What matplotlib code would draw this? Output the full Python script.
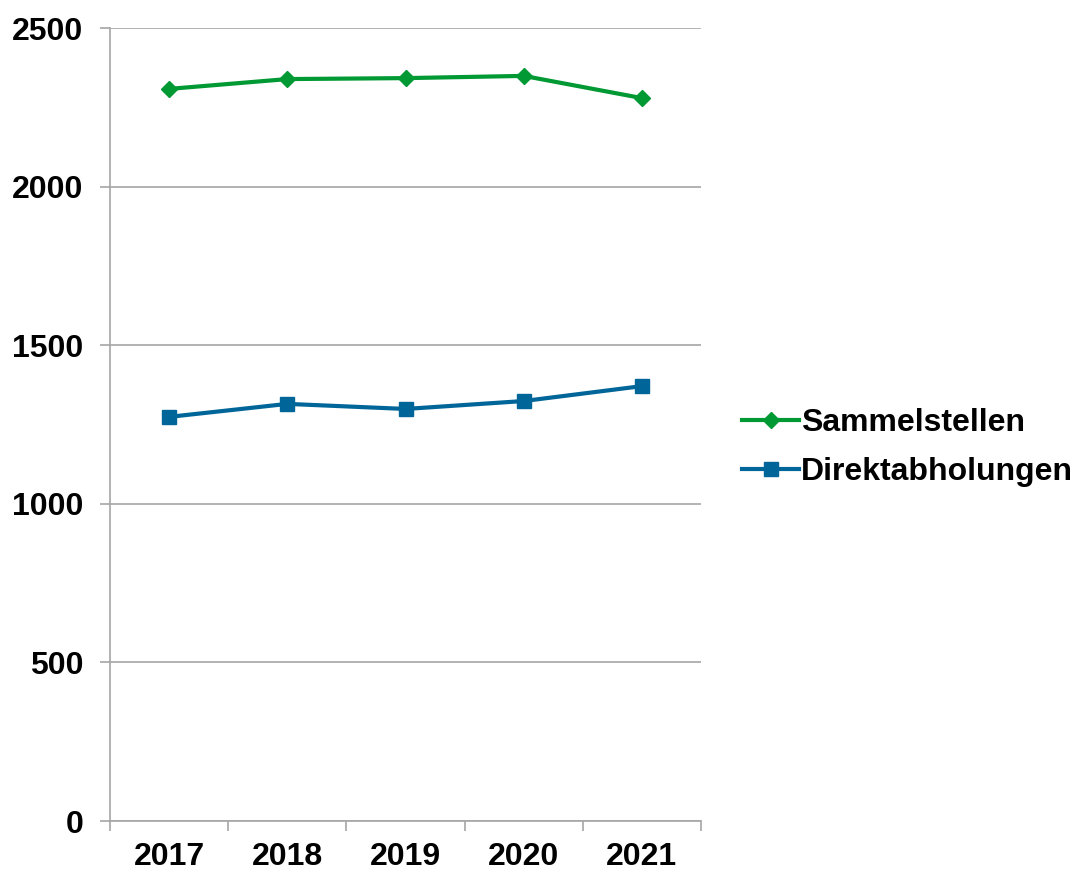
import matplotlib
matplotlib.use("Agg")
import matplotlib.pyplot as plt

plt.rcParams.update({
    "font.family": ["Liberation Sans", "DejaVu Sans"],
    "font.weight": "bold",
    "font.size": 23,
})

years = ["2017", "2018", "2019", "2020", "2021"]
sammelstellen = [2308, 2339, 2342, 2349, 2279]
direktabholungen = [1274, 1315, 1299, 1324, 1371]

GREEN = "#009933"
BLUE = "#006699"
GRID = "#a6a6a6"

fig = plt.figure(figsize=(10.74, 8.72), dpi=100)
ax = fig.add_axes([110 / 1074, 1 - 821 / 872, 591 / 1074, 793 / 872])

x = range(len(years))
ax.plot(x, sammelstellen, color=GREEN, lw=3, marker="D", ms=8,
        label="Sammelstellen")
ax.plot(x, direktabholungen, color=BLUE, lw=3, marker="s", ms=10,
        label="Direktabholungen")

ax.set_xlim(-0.5, len(years) - 0.5)
ax.set_ylim(0, 2500)
ax.set_yticks(range(0, 2501, 500))
ax.yaxis.grid(True, color=GRID, lw=1.2)
ax.set_axisbelow(True)

# category boundaries as ticks, labels centred in between
ax.set_xticks([i - 0.5 for i in range(len(years) + 1)])
ax.set_xticklabels([])
ax.set_xticks(list(x), minor=True)
ax.set_xticklabels(years, minor=True)
ax.tick_params(axis="x", which="major", length=7, color=GRID, width=1.2)
ax.tick_params(axis="x", which="minor", length=0, pad=15)
ax.tick_params(axis="y", length=7, color=GRID, width=1.2, pad=12)

for s in ("top", "right"):
    ax.spines[s].set_visible(False)
for s in ("left", "bottom"):
    ax.spines[s].set_color(GRID)
    ax.spines[s].set_linewidth(1.2)

ax.legend(loc="center left", bbox_to_anchor=(1.069, 0.471), frameon=False,
          borderpad=0, borderaxespad=0,
          handlelength=1.8, handletextpad=0.05, labelspacing=0.6,
          prop={"weight": "bold", "size": 23})

fig.savefig("out.png", dpi=100)
